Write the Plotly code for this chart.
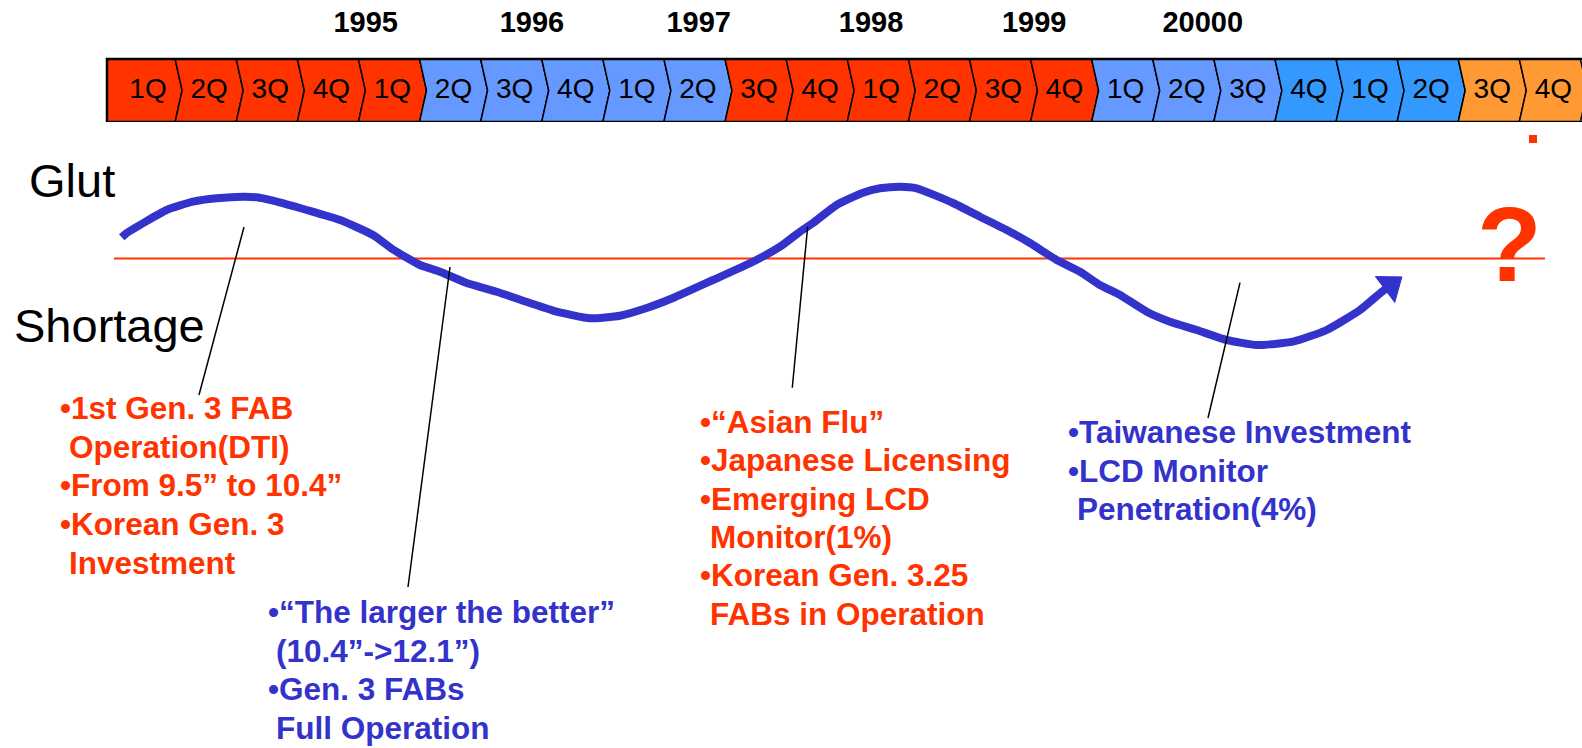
import plotly.graph_objects as go

# ---------------- data ----------------
quarters = ["1Q", "2Q", "3Q", "4Q"] * 6
segment_colors = (["#FF3300"] * 5 + ["#6699FF"] * 5 + ["#FF3300"] * 6 +
                  ["#6699FF"] * 3 + ["#3399FF"] * 3 + ["#FF9933"] * 2)
years = ["1995", "1996", "1997", "1998", "1999", "20000"]
year_pos = [4.12, 6.84, 9.57, 12.39, 15.06, 17.82]

# supply/demand balance curve (x: quarter index, y: balance, + glut / - shortage)
curve_q = [0.126, 0.208, 0.863, 1.293, 1.681, 2.111, 2.335, 2.602, 3.154, 3.699,
           4.239, 4.566, 5.008, 5.335, 5.772, 6.263, 6.808, 7.245, 7.79, 8.281,
           8.718, 9.149, 9.804, 10.458, 10.9, 11.227, 11.44, 11.828, 12.258, 12.537,
           12.864, 13.137, 13.732, 14.173, 14.61, 14.992, 15.429, 15.81, 16.137, 16.465,
           16.902, 17.283, 17.72, 18.211, 18.702, 19.296, 19.848, 20.393, 20.72, 20.895]
curve_balance = [2.12, 2.55, 4.85, 5.68, 6.02, 6.18, 6.12, 5.78, 4.85, 3.85,
                 2.35, 0.9, -0.65, -1.32, -2.45, -3.32, -4.45, -5.32, -5.98, -5.72,
                 -4.95, -3.95, -2.15, -0.32, 1.18, 2.68, 3.55, 5.35, 6.58, 7.02,
                 7.18, 7.02, 5.55, 4.18, 2.85, 1.55, -0.15, -1.32, -2.65, -3.65,
                 -5.32, -6.32, -7.15, -8.15, -8.65, -8.32, -7.15, -5.15, -3.48, -2.68]

balance_line_q = [0.0, 23.42]

# callout leader lines (curve point -> text)
callout_top_q = [2.128, 5.499, 11.353, 18.429]
callout_top_b = [3.15, -0.85, 3.18, -2.42]
callout_end_q = [1.391, 4.812, 11.101, 17.905]
callout_end_b = [-13.65, -32.85, -12.92, -15.95]

event_red_1 = ["•1st Gen. 3 FAB", "Operation(DTI)", "•From 9.5” to 10.4”",
               "•Korean Gen. 3", "Investment"]
event_blue_1 = ["•“The larger the better”", "(10.4”->12.1”)", "•Gen. 3 FABs",
                "Full Operation"]
event_red_2 = ["•“Asian Flu”", "•Japanese Licensing", "•Emerging LCD",
               "Monitor(1%)", "•Korean Gen. 3.25", "FABs in Operation"]
event_blue_2 = ["•Taiwanese Investment", "•LCD Monitor", "Penetration(4%)"]

# ---------------- layout constants ----------------
W, H = 1582, 748
X0_PX, Q_PX = 114.0, 61.1        # pixel of quarter 0, pixels per quarter
ZERO_PX, B_PX = 258.5, 10.0      # pixel of balance 0, pixels per balance unit
BAR_TOP, BAR_BOT = 59.0, 122.0
RED = "#FF3300"
BLUE = "#3333CC"
FONT = "Liberation Sans, Arial, sans-serif"
d = 7.0 / Q_PX

fig = go.Figure()

# chevron quarter bar (on y2: 0 = bar bottom, 1 = bar top)
for k, (q, c) in enumerate(zip(quarters, segment_colors)):
    L = k if k > 0 else -d
    N = k + d if k > 0 else -d
    xs = [L, k + 1, k + 1 + d, k + 1, L, N, L]
    ys = [0, 0, 0.5, 1, 1, 0.5, 0]
    fig.add_trace(go.Scatter(x=xs, y=ys, yaxis="y2", mode="lines", fill="toself",
                             fillcolor=c, line=dict(color="black", width=1.5),
                             hoverinfo="skip"))
fig.add_trace(go.Scatter(x=[24.5, -d, -d, 24.5], y=[1, 1, 0, 0], yaxis="y2",
                         mode="lines", line=dict(color="black", width=2.5),
                         hoverinfo="skip"))
fig.add_trace(go.Scatter(x=[k + 0.5 + d / 2 for k in range(len(quarters))],
                         y=[0.5] * len(quarters), yaxis="y2", mode="text",
                         text=quarters, textposition="middle center",
                         textfont=dict(family=FONT, size=28, color="black"),
                         cliponaxis=False, hoverinfo="skip"))
fig.add_trace(go.Scatter(x=year_pos, y=[1 + (BAR_TOP - 25) / (BAR_BOT - BAR_TOP)] * len(years),
                         yaxis="y2", mode="text", text=years,
                         textposition="middle center",
                         textfont=dict(family=FONT, size=29, color="black", weight=700),
                         cliponaxis=False, hoverinfo="skip"))

# balance (zero) line
fig.add_trace(go.Scatter(x=balance_line_q, y=[0, 0], mode="lines",
                         line=dict(color=RED, width=2), hoverinfo="skip"))
# curve
fig.add_trace(go.Scatter(x=curve_q, y=curve_balance, mode="lines",
                         line=dict(color=BLUE, width=8, shape="spline", smoothing=0.5),
                         hoverinfo="skip"))
fig.add_trace(go.Scatter(x=curve_q[-2:], y=curve_balance[-2:], mode="markers",
                         marker=dict(symbol="triangle-up", size=[0, 28], color=BLUE,
                                     opacity=1, angleref="previous",
                                     line=dict(width=1, color=BLUE)),
                         hoverinfo="skip"))
# leader lines
for tq, tb, eq, eb in zip(callout_top_q, callout_top_b, callout_end_q, callout_end_b):
    fig.add_trace(go.Scatter(x=[tq, eq], y=[tb, eb], mode="lines",
                             line=dict(color="black", width=1.5), hoverinfo="skip"))

ann = []


def px_ann(text, x, y, size, color, bold=False, xanchor="left"):
    ann.append(dict(text=text, x=x / W, y=1 - y / H, xref="paper", yref="paper",
                    xanchor=xanchor, yanchor="middle", showarrow=False,
                    font=dict(family=FONT, size=size, color=color,
                              weight=700 if bold else 400)))


def block(lines, xb, xc, y0, color, step=38.7):
    for i, t in enumerate(lines):
        x = xb if t.startswith("•") else xc
        px_ann(t, x - 2, y0 + i * step, 31.5, color, bold=True)


block(event_red_1, 60, 69, 408, RED)
block(event_blue_1, 268, 276, 612, BLUE, 38.7)
block(event_red_2, 700, 710, 422, RED, 38.3)
block(event_blue_2, 1068, 1077, 432, BLUE, 38.5)

px_ann("Glut", 27, 181, 47, "black")
px_ann("Shortage", 12, 325, 47, "black")
px_ann("?", 1509, 244, 106, RED, bold=True, xanchor="center")

fig.update_layout(
    width=W, height=H, margin=dict(l=0, r=0, t=0, b=0),
    paper_bgcolor="white", plot_bgcolor="rgba(0,0,0,0)", showlegend=False,
    hovermode=False, annotations=ann,
    xaxis=dict(range=[-X0_PX / Q_PX, (W - X0_PX) / Q_PX], visible=False, fixedrange=True),
    yaxis=dict(domain=[0, 1], range=[(ZERO_PX - H) / B_PX, ZERO_PX / B_PX],
               visible=False, fixedrange=True),
    yaxis2=dict(domain=[1 - BAR_BOT / H, 1], range=[0, 1 + BAR_TOP / (BAR_BOT - BAR_TOP)],
                anchor="x", visible=False, fixedrange=True),
    shapes=[dict(type="rect", xref="paper", yref="paper", x0=1529 / W, x1=1537 / W,
                 y0=1 - 143 / H, y1=1 - 135 / H, fillcolor=RED, line=dict(width=0))],
)

fig.write_html("out.html", config={"displayModeBar": False},
               post_script="document.body.style.margin='0';document.body.style.overflow='hidden';")
